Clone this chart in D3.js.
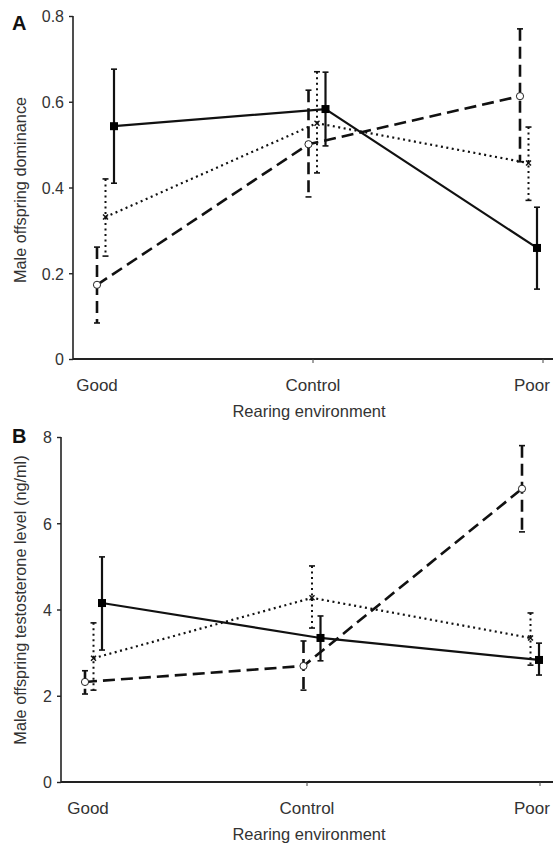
<!DOCTYPE html>
<html><head><meta charset="utf-8">
<script src="https://cdn.jsdelivr.net/npm/d3@7"></script>
<style>
html,body{margin:0;padding:0;background:#fff;}
svg{display:block;font-family:Arial,"Liberation Sans",sans-serif;}
</style></head>
<body>
<svg id="chart" width="553" height="849"></svg>
<script>
// ---------- DATA ----------
const categories = ["Good", "Control", "Poor"];
const seriesNames = ["dashed", "dotted", "solid"];

// Panel A: Male offspring dominance
const aSolidMean   = [0.543, 0.583, 0.259];
const aSolidUpper  = [0.676, 0.669, 0.354];
const aSolidLower  = [0.410, 0.497, 0.163];
const aDottedMean  = [0.331, 0.550, 0.457];
const aDottedUpper = [0.420, 0.670, 0.541];
const aDottedLower = [0.240, 0.434, 0.370];
const aDashedMean  = [0.173, 0.501, 0.613];
const aDashedUpper = [0.261, 0.627, 0.770];
const aDashedLower = [0.084, 0.378, 0.460];
const aTicks = [0, 0.2, 0.4, 0.6, 0.8];
const aTickLabels = ["0", "0.2", "0.4", "0.6", "0.8"];

// Panel B: Male offspring testosterone level (ng/ml)
const bSolidMean   = [4.15, 3.34, 2.83];
const bSolidUpper  = [5.22, 3.85, 3.22];
const bSolidLower  = [3.06, 2.81, 2.48];
const bDottedMean  = [2.87, 4.27, 3.34];
const bDottedUpper = [3.69, 5.01, 3.92];
const bDottedLower = [2.13, 3.57, 2.71];
const bDashedMean  = [2.32, 2.69, 6.80];
const bDashedUpper = [2.58, 3.27, 7.80];
const bDashedLower = [2.04, 2.13, 5.80];
const bTicks = [0, 2, 4, 6, 8];
const bTickLabels = ["0", "2", "4", "6", "8"];

const xTitle = "Rearing environment";
const aYTitle = "Male offspring dominance";
const bYTitle = "Male offspring testosterone level (ng/ml)";

// ---------- DRAW ----------
const svg = d3.select("#chart");

const styles = {
  solid:  {dash: null,    width: 2.2, ebWidth: 2.2},
  dotted: {dash: "2,3.5", width: 2.2, ebWidth: 2},
  dashed: {dash: "12,6",  width: 2.6, ebWidth: 2.6}
};

function drawPanel(cfg) {
  const g = svg.append("g");
  const y = d3.scaleLinear().domain(cfg.yDomain).range(cfg.yRange);
  const x = d3.scalePoint().domain(categories).range(cfg.xRange);
  const off = d3.scalePoint().domain(seriesNames).range(cfg.offRange);
  const xl = d3.scaleOrdinal().domain(categories).range(cfg.labelPos);
  const xt = d3.scaleOrdinal().domain(categories).range(cfg.tickPos);

  // y axis
  const yAxis = d3.axisLeft(y).tickValues(cfg.ticks)
    .tickFormat((d, i) => cfg.tickLabels[i]).tickSize(4).tickPadding(5);
  const ya = g.append("g").attr("transform", `translate(${cfg.axisX},0)`).call(yAxis);
  ya.select(".domain").attr("stroke", "#222").attr("stroke-width", 1.6)
    .attr("d", `M0,${cfg.yRange[0]}V${cfg.yRange[1]}`);
  ya.selectAll(".tick line").attr("stroke", "#222").attr("stroke-width", 1.4);
  ya.selectAll(".tick text").attr("fill", "#333").style("font-size", "16px")
    .attr("dy", "0.36em");

  // x axis line
  g.append("line").attr("x1", cfg.axisX).attr("x2", 553)
    .attr("y1", cfg.yRange[0]).attr("y2", cfg.yRange[0])
    .attr("stroke", "#222").attr("stroke-width", 1.8);
  // x ticks (not on first category)
  g.selectAll(".xt").data(categories.slice(1)).enter().append("line")
    .attr("x1", d => xt(d)).attr("x2", d => xt(d))
    .attr("y1", cfg.yRange[0]).attr("y2", cfg.yRange[0] + 4)
    .attr("stroke", "#444").attr("stroke-width", 1);
  g.selectAll(".xl").data(categories).enter().append("text")
    .attr("x", d => xl(d)).attr("y", cfg.yRange[0] + 32)
    .attr("text-anchor", "middle").attr("fill", "#333")
    .style("font-size", "17px").text(d => d);

  // titles
  g.append("text").attr("x", cfg.xTitleX).attr("y", cfg.yRange[0] + 58)
    .attr("text-anchor", "middle").attr("fill", "#333")
    .style("font-size", "16.5px").text(xTitle);
  g.append("text")
    .attr("transform", `translate(26,${cfg.yTitleY}) rotate(-90)`)
    .attr("text-anchor", "middle").attr("fill", "#333")
    .style("font-size", "16.3px").text(cfg.yTitle);
  g.append("text").attr("x", 12).attr("y", cfg.letterY)
    .attr("fill", "#111").style("font-size", "20px").style("font-weight", "bold")
    .text(cfg.letter);

  const line = d3.line().x(d => d.x).y(d => d.y);

  cfg.series.forEach(s => {
    const st = styles[s.name];
    const pts = categories.map((c, i) => ({
      x: x(c) + off(s.name), y: y(s.mean[i]), yu: y(s.upper[i]), yl: y(s.lower[i])
    }));
    // error bars
    pts.forEach(p => {
      g.append("line").attr("x1", p.x).attr("x2", p.x).attr("y1", p.yu).attr("y2", p.yl)
        .attr("stroke", "#111").attr("stroke-width", st.ebWidth)
        .attr("stroke-dasharray", st.dash);
      [p.yu, p.yl].forEach(yy => {
        g.append("line").attr("x1", p.x - 3).attr("x2", p.x + 3).attr("y1", yy).attr("y2", yy)
          .attr("stroke", "#111").attr("stroke-width", 1.6);
      });
    });
    // connecting line
    g.append("path").attr("d", line(pts)).attr("fill", "none")
      .attr("stroke", "#111").attr("stroke-width", st.width)
      .attr("stroke-dasharray", st.dash);
    // markers
    pts.forEach(p => {
      if (s.name === "solid") {
        g.append("rect").attr("x", p.x - 4).attr("y", p.y - 4).attr("width", 8).attr("height", 8)
          .attr("fill", "#000");
      } else if (s.name === "dashed") {
        g.append("circle").attr("cx", p.x).attr("cy", p.y).attr("r", 3.6)
          .attr("fill", "#fff").attr("stroke", "#222").attr("stroke-width", 1);
      } else {
        g.append("path")
          .attr("d", `M${p.x-2.5},${p.y-2.5}L${p.x+2.5},${p.y+2.5}M${p.x-2.5},${p.y+2.5}L${p.x+2.5},${p.y-2.5}`)
          .attr("stroke", "#111").attr("stroke-width", 1.4);
      }
    });
  });
}

drawPanel({
  letter: "A", letterY: 30,
  yDomain: [0, 0.8], yRange: [359, 16], ticks: aTicks, tickLabels: aTickLabels,
  axisX: 73, xRange: [105, 528], offRange: [-8, 9],
  labelPos: [97, 313, 532], tickPos: [97, 313, 543],
  xTitleX: 309, yTitle: aYTitle, yTitleY: 190,
  series: [
    {name: "dashed", mean: aDashedMean, upper: aDashedUpper, lower: aDashedLower},
    {name: "dotted", mean: aDottedMean, upper: aDottedUpper, lower: aDottedLower},
    {name: "solid",  mean: aSolidMean,  upper: aSolidUpper,  lower: aSolidLower}
  ]
});

drawPanel({
  letter: "B", letterY: 443,
  yDomain: [0, 8], yRange: [782, 437], ticks: bTicks, tickLabels: bTickLabels,
  axisX: 61, xRange: [93, 530], offRange: [-8, 9],
  labelPos: [88, 307, 532], tickPos: [88, 307, 540],
  xTitleX: 309, yTitle: bYTitle, yTitleY: 600,
  series: [
    {name: "dashed", mean: bDashedMean, upper: bDashedUpper, lower: bDashedLower},
    {name: "dotted", mean: bDottedMean, upper: bDottedUpper, lower: bDottedLower},
    {name: "solid",  mean: bSolidMean,  upper: bSolidUpper,  lower: bSolidLower}
  ]
});
</script>
</body></html>
